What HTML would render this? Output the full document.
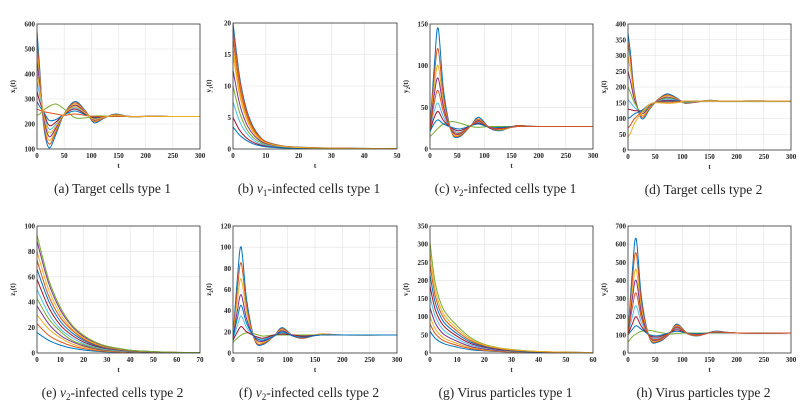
<!DOCTYPE html>
<html><head><meta charset="utf-8">
<style>
html,body{margin:0;padding:0;background:#fff;}
svg{display:block;}
.tk{font-family:"Liberation Serif",serif;font-size:7px;font-weight:bold;fill:#222;}
.cap{font-family:"Liberation Serif",serif;font-size:13.5px;fill:#222;}
</style></head>
<body>
<svg id="fig" width="811" height="416" viewBox="0 0 811 416"></svg>
<script>
const COLORS=["#0072BD","#D95319","#EDB120","#7E2F8E","#77AC30","#4DBEEE","#A2142F"];
// ---- data ----
const tA=[0,5,12,22,35,50,70,90,105,125,145,175,210,250,300];
const sA=[
[570,420,200,105,160,240,290,250,205,225,240,228,232,230,230],
[530,400,210,120,170,240,285,248,210,226,238,228,231,230,230],
[490,380,220,135,178,240,280,246,213,227,237,229,231,230,230],
[450,360,230,150,185,240,275,244,216,227,236,229,231,230,230],
[235,240,255,270,280,260,225,225,232,232,230,230,230,230,230],
[370,315,245,180,200,240,265,240,222,228,234,229,231,230,230],
[330,290,248,195,208,240,260,238,225,229,233,230,231,230,230],
[290,270,250,215,218,238,252,236,228,229,232,230,230,230,230],
[260,255,250,245,240,235,240,234,230,230,231,230,230,230,230],
[410,340,240,165,192,240,270,242,219,228,235,229,231,230,230]];
const tB=[0,2,4,6,8,10,15,20,30,50];
const sB=[
[20,11.5,6.5,3.7,2.1,1.2,0.5,0.3,0.15,0.05],
[17.5,10,5.7,3.2,1.9,1.1,0.45,0.25,0.12,0.05],
[15,8.6,4.9,2.8,1.6,0.95,0.4,0.22,0.1,0.05],
[12.5,7.2,4.1,2.4,1.4,0.85,0.35,0.2,0.1,0.05],
[10,5.8,3.3,1.9,1.15,0.7,0.3,0.18,0.1,0.05],
[7.5,4.4,2.6,1.5,0.9,0.6,0.25,0.15,0.08,0.04],
[5,3,1.8,1.1,0.7,0.45,0.2,0.12,0.07,0.04],
[3.5,2.2,1.4,0.85,0.55,0.35,0.17,0.1,0.06,0.03],
[19,11,6.2,3.5,2,1.15,0.48,0.28,0.14,0.05],
[16,9.2,5.2,3,1.7,1,0.42,0.23,0.11,0.05]];
const tC=[0,8,15,25,40,55,75,90,110,130,160,200,300];
const sC=[
[25,100,145,70,20,15,28,38,25,22,28,27,27],
[25,88,120,62,20,16,28,36,25,23,28,27,27],
[24,75,100,55,21,17,28,35,25,23,27,27,27],
[24,66,85,50,22,18,28,34,25,24,27,27,27],
[15,20,25,30,33,31,27,26,27,27,27,27,27],
[22,46,55,38,24,20,28,32,26,25,27,27,27],
[22,38,45,34,25,22,28,31,26,25,27,27,27],
[21,31,35,30,26,24,28,30,26,26,27,27,27],
[23,56,70,44,23,19,28,33,26,24,27,27,27]];
const tD=[0,5,12,25,40,55,72,90,105,125,150,180,220,300];
const sD=[
[370,300,180,100,130,160,178,165,148,152,158,154,156,155],
[340,280,175,105,132,160,175,163,149,152,157,154,156,155],
[300,250,168,110,135,158,172,162,150,153,157,155,155,155],
[250,215,160,115,138,157,168,160,151,153,156,155,155,155],
[200,180,150,120,140,155,165,158,152,154,156,155,155,155],
[160,150,135,122,142,154,162,157,153,154,156,155,155,155],
[130,128,125,125,143,153,158,156,154,155,155,155,155,155],
[100,105,115,125,145,152,155,155,154,155,155,155,155,155],
[70,80,100,120,145,152,152,153,155,155,155,155,155,155],
[40,55,85,118,145,150,148,150,155,155,155,155,155,155]];
const tE=[0,5,10,15,20,25,30,40,50,60,70];
const sE=[
[16,10,6.2,3.8,2.4,1.5,0.9,0.4,0.2,0.1,0.1],
[23,14,8.9,5.5,3.5,2.1,1.3,0.6,0.3,0.2,0.1],
[30,19,12,7.2,4.5,2.8,1.7,0.8,0.4,0.2,0.1],
[37,23,14,8.9,5.6,3.4,2.1,0.9,0.5,0.3,0.1],
[43,27,17,10,6.5,4,2.5,1.1,0.5,0.3,0.1],
[50,31,19,12,7.5,4.7,2.9,1.3,0.6,0.3,0.2],
[58,36,22,14,8.7,5.4,3.4,1.5,0.7,0.3,0.2],
[66,41,25,16,10,6.1,3.8,1.7,0.8,0.4,0.2],
[73,45,28,18,11,6.8,4.2,1.8,0.9,0.4,0.2],
[80,50,31,19,12,7.4,4.6,2,1,0.5,0.3],
[88,55,34,21,13,8.2,5.1,2.2,1.1,0.5,0.3],
[93,58,36,22,14,8.6,5.4,2.3,1.1,0.5,0.3]];
const tF=[0,8,15,25,40,55,75,90,110,130,160,200,300];
const sF=[
[15,70,100,50,12,8,16,24,16,14,18,17,17],
[15,60,85,44,12,9,16,23,16,14,18,17,17],
[15,50,70,38,13,10,16,22,16,15,18,17,17],
[14,40,55,32,14,11,16,21,16,15,17,17,17],
[10,14,17,19,18,16,17,17,17,17,17,17,17],
[13,26,35,24,15,13,17,19,17,16,17,17,17],
[12,20,25,20,16,14,17,18,17,16,17,17,17],
[14,33,45,28,15,12,16,20,16,15,17,17,17]];
const tG=[0,2,5,10,15,20,25,30,40,50,60];
const sG=[
[60,40,26,16,9,6,4,3,1,1,0.5],
[80,53,34,21,12,7,5,3,2,1,0.5],
[100,66,42,26,15,9,6,4,2,1,1],
[125,82,52,32,18,11,7,5,2,1,1],
[305,190,120,75,42,24,15,10,4,2,1],
[155,100,63,39,22,14,9,5,3,1,1],
[185,118,75,46,26,16,10,6,3,1,1],
[215,137,86,53,30,18,12,7,3,2,1],
[245,155,97,60,34,20,13,8,4,2,1],
[275,172,108,67,38,22,14,9,4,2,1]];
const tH=[0,8,15,25,40,55,75,90,110,130,160,200,300];
const sH=[
[100,450,630,300,80,60,100,160,105,95,120,110,110],
[100,400,550,270,82,64,102,155,106,96,118,110,110],
[100,340,460,240,85,68,104,150,106,98,117,110,110],
[100,300,400,215,88,72,106,145,107,99,116,110,110],
[60,90,105,120,125,115,105,108,110,110,110,110,110],
[100,200,260,165,93,82,110,135,108,102,114,110,110],
[100,160,200,145,96,88,110,128,109,104,113,110,110],
[100,130,150,130,100,95,110,120,110,106,112,110,110],
[100,250,330,190,90,76,108,140,108,100,115,110,110]];
const xTicksA=[0,50,100,150,200,250,300], yTicksA=[100,200,300,400,500,600];
const xTicksB=[0,10,20,30,40,50], yTicksB=[0,5,10,15,20];
const yTicksC=[0,50,100,150];
const yTicksD=[0,50,100,150,200,250,300,350,400];
const xTicksE=[0,10,20,30,40,50,60,70], yTicksE=[0,20,40,60,80,100];
const yTicksF=[0,20,40,60,80,100,120];
const xTicksG=[0,10,20,30,40,50,60], yTicksG=[0,50,100,150,200,250,300,350];
const yTicksH=[0,100,200,300,400,500,600,700];

const panels=[
{id:"a",x0:37,x1:200,y0:24,y1:149,xr:[0,300],yr:[100,600],xt:xTicksA,yt:yTicksA,t:tA,s:sA,yl:["x","1"],cap:'(a)  Target cells type 1'},
{id:"b",x0:233,x1:397,y0:23,y1:149,xr:[0,50],yr:[0,20],xt:xTicksB,yt:yTicksB,t:tB,s:sB,yl:["y","1"],cap:'(b)  <tspan font-style="italic">v</tspan><tspan font-size="9" dy="3">1</tspan><tspan dy="-3">-infected cells type 1</tspan>'},
{id:"c",x0:430,x1:593,y0:24,y1:149,xr:[0,300],yr:[0,150],xt:xTicksA,yt:yTicksC,t:tC,s:sC,yl:["y","2"],cap:'(c)  <tspan font-style="italic">v</tspan><tspan font-size="9" dy="3">2</tspan><tspan dy="-3">-infected cells type 1</tspan>'},
{id:"d",x0:628,x1:791,y0:24,y1:150,xr:[0,300],yr:[0,400],xt:xTicksA,yt:yTicksD,t:tD,s:sD,yl:["x","2"],cap:'(d)  Target cells type 2'},
{id:"e",x0:37,x1:200,y0:226,y1:353,xr:[0,70],yr:[0,100],xt:xTicksE,yt:yTicksE,t:tE,s:sE,yl:["z","1"],cap:'(e)  <tspan font-style="italic">v</tspan><tspan font-size="9" dy="3">2</tspan><tspan dy="-3">-infected cells type 2</tspan>'},
{id:"f",x0:233,x1:397,y0:226,y1:353,xr:[0,300],yr:[0,120],xt:xTicksA,yt:yTicksF,t:tF,s:sF,yl:["z","2"],cap:'(f)  <tspan font-style="italic">v</tspan><tspan font-size="9" dy="3">2</tspan><tspan dy="-3">-infected cells type 2</tspan>'},
{id:"g",x0:430,x1:593,y0:226,y1:353,xr:[0,60],yr:[0,350],xt:xTicksG,yt:yTicksG,t:tG,s:sG,yl:["v","1"],cap:'(g)  Virus particles type 1'},
{id:"h",x0:628,x1:791,y0:226,y1:353,xr:[0,300],yr:[0,700],xt:xTicksA,yt:yTicksH,t:tH,s:sH,yl:["v","2"],cap:'(h)  Virus particles type 2'}];

const NS="http://www.w3.org/2000/svg";
const svg=document.getElementById('fig');
function mk(tag,attrs,parent){const e=document.createElementNS(NS,tag);for(const k in attrs)e.setAttribute(k,attrs[k]);parent.appendChild(e);return e;}
function spline(pts){
  let d="M"+pts[0][0].toFixed(2)+","+pts[0][1].toFixed(2);
  for(let i=0;i<pts.length-1;i++){
    const p0=pts[Math.max(0,i-1)],p1=pts[i],p2=pts[i+1],p3=pts[Math.min(pts.length-1,i+2)];
    const c1=[p1[0]+(p2[0]-p0[0])/6,p1[1]+(p2[1]-p0[1])/6];
    const c2=[p2[0]-(p3[0]-p1[0])/6,p2[1]-(p3[1]-p1[1])/6];
    d+="C"+c1[0].toFixed(2)+","+c1[1].toFixed(2)+" "+c2[0].toFixed(2)+","+c2[1].toFixed(2)+" "+p2[0].toFixed(2)+","+p2[1].toFixed(2);
  }
  return d;
}
panels.forEach(p=>{
  const g=mk('g',{},svg);
  
  
  const sx=v=>p.x0+(v-p.xr[0])/(p.xr[1]-p.xr[0])*(p.x1-p.x0);
  const sy=v=>p.y1-(v-p.yr[0])/(p.yr[1]-p.yr[0])*(p.y1-p.y0);
  mk('rect',{x:p.x0,y:p.y0,width:p.x1-p.x0,height:p.y1-p.y0,fill:'#fff'},g);
  p.xt.forEach(v=>{
    const x=sx(v);
    const l=mk('line',{x1:x,x2:x,y1:p.y0,y2:p.y1,stroke:'#e2e2e2','stroke-width':0.6},g);
    
    
    const t=mk('text',{x:x,y:p.y1+9,'text-anchor':'middle',class:'tk'},g);t.textContent=v;
    
    
  });
  p.yt.forEach(v=>{
    const y=sy(v);
    const l=mk('line',{x1:p.x0,x2:p.x1,y1:y,y2:y,stroke:'#e2e2e2','stroke-width':0.6},g);
    
    
    const t=mk('text',{x:p.x0-2,y:y+2.5,'text-anchor':'end',class:'tk'},g);t.textContent=v;
    
    
  });
  const cp=mk('clipPath',{id:'cp'+p.id},g);
  mk('rect',{x:p.x0,y:p.y0,width:p.x1-p.x0,height:p.y1-p.y0},cp);
  const lg=mk('g',{'clip-path':'url(#cp'+p.id+')'},g);
  p.s.forEach((ser,i)=>{
    const pts=ser.map((v,k)=>[sx(p.t[k]),sy(v)]);
    const path=mk('path',{d:spline(pts),fill:'none',stroke:COLORS[i%COLORS.length],'stroke-width':1},lg);
    
    
  });
  const fr=mk('rect',{x:p.x0,y:p.y0,width:p.x1-p.x0,height:p.y1-p.y0,fill:'none',stroke:'#333','stroke-width':0.8},g);
  
  
  const xl=mk('text',{x:(p.x0+p.x1)/2,y:p.y1+19,'text-anchor':'middle',class:'tk'},g);xl.textContent='t';
  
  
  const ym=(p.y0+p.y1)/2;
  const yl=mk('text',{x:0,y:0,'text-anchor':'middle',class:'tk',transform:'translate('+(p.x0-22)+','+ym+') rotate(-90)'},g);
  yl.innerHTML=p.yl[0]+'<tspan font-size="5" dy="2">'+p.yl[1]+'</tspan><tspan dy="-2">(t)</tspan>';
  
  
  const cap=mk('text',{x:(p.x0+p.x1)/2-6,y:p.y1+44,'text-anchor':'middle',class:'cap'},g);
  cap.innerHTML=p.cap;
  
  
});
</script>
</body></html>
